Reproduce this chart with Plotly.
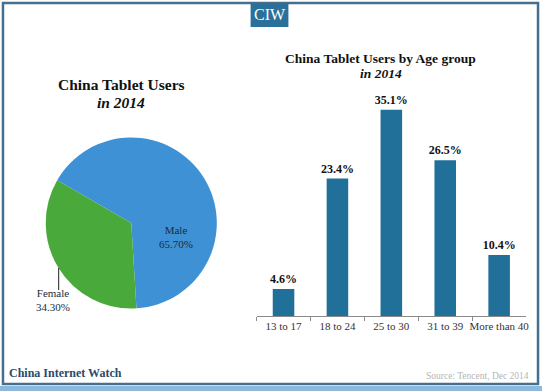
import plotly.graph_objects as go

W, H = 545, 391

# ---- data ----
gender_labels = ["Male", "Female"]
gender_values = [65.70, 34.30]
age_groups = ["13 to 17", "18 to 24", "25 to 30", "31 to 39", "More than 40"]
age_values = [4.6, 23.4, 35.1, 26.5, 10.4]

pie_title = "China Tablet Users"
bar_title = "China Tablet Users by Age group"
subtitle = "in 2014"
brand = "China Internet Watch"
source = "Source: Tencent, Dec 2014"

SERIF = "Liberation Serif, Times New Roman, serif"
TITLE_FONT = "Liberation Serif, Georgia, serif"


def px(x):
    return x / W


def py(y):
    return 1 - y / H


fig = go.Figure()

fig.add_trace(go.Pie(
    labels=gender_labels,
    values=gender_values,
    sort=False,
    direction="clockwise",
    rotation=-60,
    textinfo="none",
    hoverinfo="label+percent",
    marker=dict(colors=["#3f91d5", "#49a93b"], line=dict(width=0)),
    domain=dict(x=[px(46), px(218)], y=[py(309), py(137)]),
    showlegend=False,
))

fig.add_trace(go.Bar(
    x=age_groups,
    y=age_values,
    marker=dict(color="#21709a", line=dict(width=0)),
    text=[f"{v:.1f}%" for v in age_values],
    textposition="outside",
    constraintext="none",
    textfont=dict(family=SERIF, size=12, color="#111111"),
    texttemplate="<b>%{text}</b>",
    cliponaxis=False,
    showlegend=False,
    xaxis="x", yaxis="y",
))

fig.update_layout(
    width=W, height=H,
    margin=dict(l=0, r=0, t=0, b=0),
    paper_bgcolor="white",
    plot_bgcolor="rgba(0,0,0,0)",
    bargap=0.6,
    xaxis=dict(
        domain=[px(258), px(529)],
        type="category",
        showline=True, linecolor="#8a8a8a", linewidth=1,
        ticks="outside", tickson="boundaries", ticklen=4, tickcolor="#8a8a8a",
        tickangle=0,
        tickfont=dict(family=SERIF, size=11, color="#333333"),
        showgrid=False, zeroline=False,
    ),
    yaxis=dict(
        domain=[py(316), py(81)],
        range=[0, 40],
        visible=False,
    ),
)

shapes = []
# outer frame
shapes.append(dict(type="rect", xref="paper", yref="paper",
                   x0=px(3), x1=px(541), y0=py(384), y1=py(3),
                   line=dict(color="#456f8e", width=2.5), fillcolor="rgba(0,0,0,0)", layer="below"))
# bottom band
shapes.append(dict(type="rect", xref="paper", yref="paper",
                   x0=0, x1=1, y0=0, y1=py(386),
                   line=dict(width=0), fillcolor="#8db9dc", layer="below"))
# CIW box
shapes.append(dict(type="rect", xref="paper", yref="paper",
                   x0=px(252), x1=px(290), y0=py(27), y1=py(3),
                   line=dict(width=0), fillcolor="#2a7099", layer="below"))
# Female leader line
shapes.append(dict(type="line", xref="paper", yref="paper",
                   x0=px(59), x1=px(59), y0=py(290), y1=py(268),
                   line=dict(color="#222222", width=1)))

annotations = [
    dict(text="CIW", x=px(271), y=py(15), font=dict(family=SERIF, size=16, color="white")),
    dict(text=f"<b>{pie_title}</b>", x=px(122), y=py(84), font=dict(family=TITLE_FONT, size=15.5, color="#111111")),
    dict(text=f"<b><i>{subtitle}</i></b>", x=px(122), y=py(103), font=dict(family=TITLE_FONT, size=15.5, color="#111111")),
    dict(text=f"<b>{bar_title}</b>", x=px(383), y=py(58), font=dict(family=TITLE_FONT, size=13.5, color="#111111")),
    dict(text=f"<b><i>{subtitle}</i></b>", x=px(383), y=py(73), font=dict(family=TITLE_FONT, size=13.5, color="#111111")),
    dict(text=f"{gender_labels[0]}<br>{gender_values[0]:.2f}%", x=px(177), y=py(237),
         font=dict(family=SERIF, size=11, color="#1b2b3c")),
    dict(text=f"{gender_labels[1]}<br>{gender_values[1]:.2f}%", x=px(53), y=py(300),
         font=dict(family=SERIF, size=11, color="#1b2b3c")),
    dict(text=f"<b>{brand}</b>", x=px(7), y=py(373), xanchor="left",
         font=dict(family=TITLE_FONT, size=12, color="#2b4b68")),
    dict(text=source, x=px(534), y=py(376), xanchor="right",
         font=dict(family=SERIF, size=9.5, color="#b5b5b5")),
]
for a in annotations:
    a.setdefault("xanchor", "center")
    a.update(xref="paper", yref="paper", showarrow=False, yanchor="middle")

fig.update_layout(shapes=shapes, annotations=annotations)

fig.write_html(
    "out.html",
    config={"displayModeBar": False},
    post_script="document.body.style.margin='0';document.body.style.overflow='hidden';",
)
